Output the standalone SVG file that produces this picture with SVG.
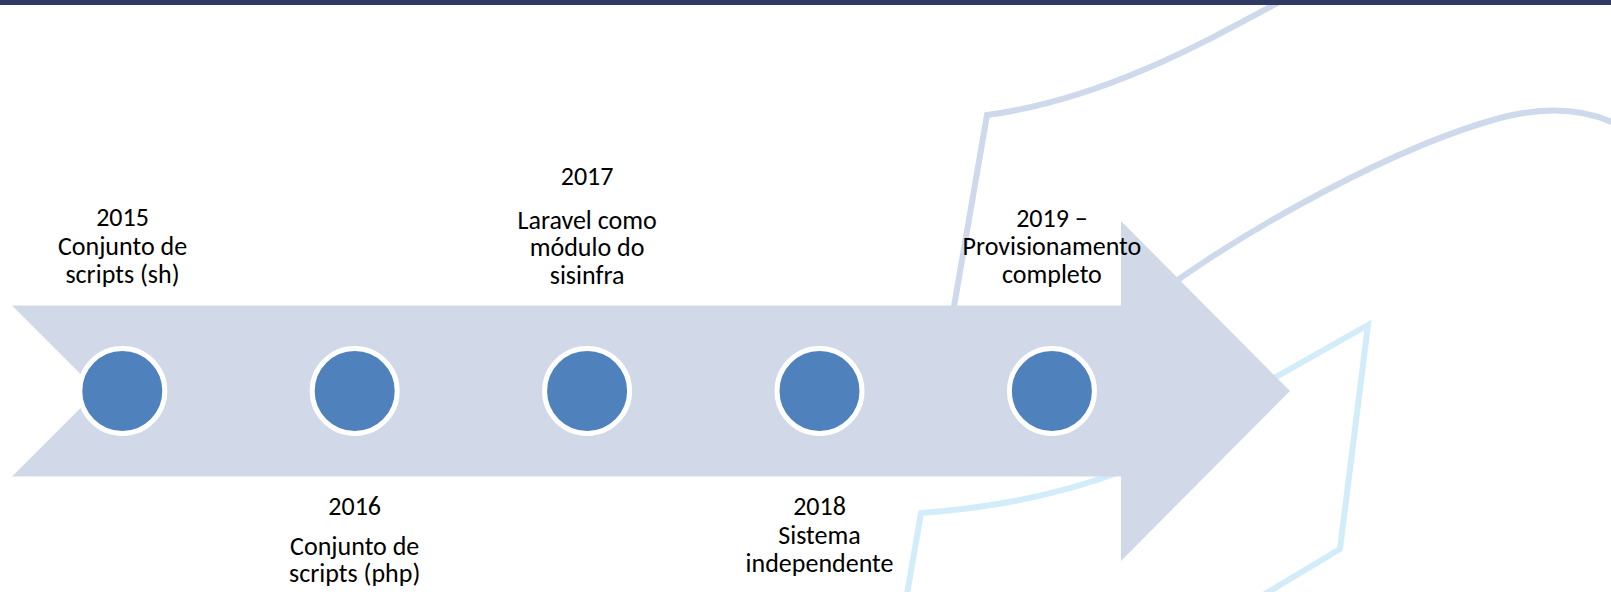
<svg xmlns="http://www.w3.org/2000/svg" width="1611" height="592" viewBox="0 0 1611 592">
  <style>
    .bg-a { fill: none; stroke: #CED9EC; stroke-width: 6; stroke-linejoin: miter; stroke-linecap: butt; }
    .bg-b { fill: none; stroke: #D2EDF9; stroke-width: 6; stroke-linejoin: miter; stroke-linecap: butt; }
    .dot { fill: #4F81BD; stroke: #FFFFFF; stroke-width: 5; }
    .lbl { font-family: Carlito, Calibri, Lato, "Liberation Sans", sans-serif; font-size: 26px; fill: #000000; text-anchor: middle; }
  </style>
  <rect x="0" y="0" width="1611" height="592" fill="#FFFFFF"/>
  <g id="background">
    <path class="bg-a" d="M 1283 0 C 1200 45, 1100 100, 987 115 L 952 318"/>
    <path class="bg-a" d="M 1150 300 C 1250 225, 1400 145, 1500 118 C 1550 105, 1590 110, 1620 126"/>
    <path class="bg-b" d="M 1230 403 L 1368 325 L 1340 549 L 1255 600"/>
    <path class="bg-b" d="M 1125 470 C 1060 495, 990 508, 921 513 L 906 600"/>
  </g>
  <rect id="header" x="0" y="0" width="1611" height="5" fill="#2E3A64"/>
  <g id="connectors">
    <polygon id="timeline" fill="#D1D9E8" points="12,305.5 1121,305.5 1121,221 1290,391 1121,561 1121,476.5 12,476.5 97.5,391"/>
  </g>
  <g id="m2015">
    <circle class="dot" cx="122.3" cy="391" r="42.5"/>
    <text class="lbl" x="122.5" y="226">2015</text>
    <text class="lbl" x="122.5" y="254.5">Conjunto de</text>
    <text class="lbl" x="122.5" y="282.5">scripts (sh)</text>
  </g>
  <g id="m2016">
    <circle class="dot" cx="354.7" cy="391" r="42.5"/>
    <text class="lbl" x="354.7" y="514.5">2016</text>
    <text class="lbl" x="354.7" y="554.5">Conjunto de</text>
    <text class="lbl" x="354.7" y="582">scripts (php)</text>
  </g>
  <g id="m2017">
    <circle class="dot" cx="587.1" cy="391" r="42.5"/>
    <text class="lbl" x="587.1" y="184.5">2017</text>
    <text class="lbl" x="587.1" y="228.5">Laravel como</text>
    <text class="lbl" x="587.1" y="256">módulo do</text>
    <text class="lbl" x="587.1" y="283.5">sisinfra</text>
  </g>
  <g id="m2018">
    <circle class="dot" cx="819.5" cy="391" r="42.5"/>
    <text class="lbl" x="819.5" y="514.5">2018</text>
    <text class="lbl" x="819.5" y="543.5">Sistema</text>
    <text class="lbl" x="819.5" y="572">independente</text>
  </g>
  <g id="m2019">
    <circle class="dot" cx="1051.9" cy="391" r="42.5"/>
    <text class="lbl" x="1051.9" y="226.5">2019 –</text>
    <text class="lbl" x="1051.9" y="254.5">Provisionamento</text>
    <text class="lbl" x="1051.9" y="282.5">completo</text>
  </g>
</svg>
